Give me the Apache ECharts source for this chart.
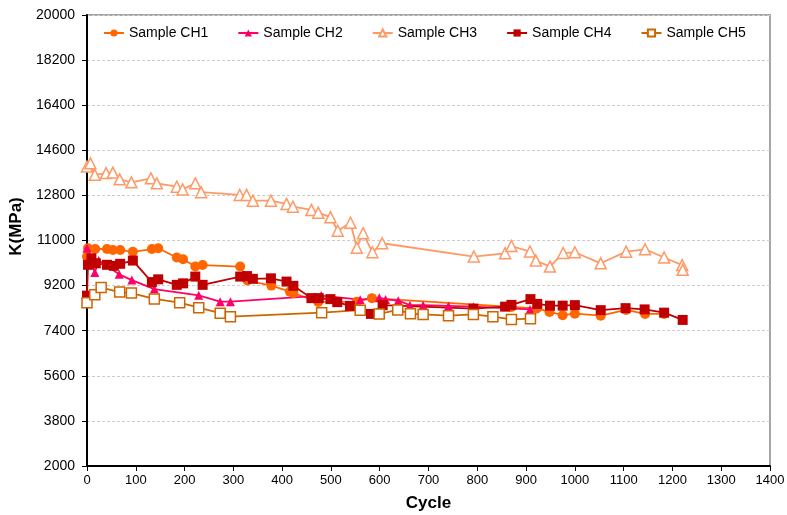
<!DOCTYPE html>
<html><head><meta charset="utf-8">
<script src="https://cdn.jsdelivr.net/npm/echarts@6/dist/echarts.min.js"></script>
<style>html,body{margin:0;padding:0;background:#fff}#c{width:787px;height:515px}</style>
</head><body><div id="c"></div>
<script>
const seriesNames = ['Sample CH1','Sample CH2','Sample CH3','Sample CH4','Sample CH5'];
const xTicks = {min:0, max:1400, interval:100};
const yTicks = {min:2000, max:20000, interval:1800};
const ch1 = [[0,10350],[2,10690],[17,10660],[41,10660],[53,10620],[68,10620],[94,10550],[133,10660],[146,10690],[184,10320],[197,10250],[222,9960],[237,10020],[314,9960],[329,9400],[378,9200],[416,8960],[423,8900],[474,8550],[553,8560],[584,8700],[870,8350],[922,8290],[948,8150],[975,8020],[1000,8080],[1053,8000],[1105,8230],[1144,8070],[1183,8070]];
const ch2 = [[0,10690],[16,9720],[24,10200],[66,9650],[92,9420],[138,9060],[229,8810],[273,8560],[294,8560],[480,8800],[560,8640],[599,8720],[612,8650],[638,8600],[662,8420],[689,8420],[741,8390],[792,8360],[908,8250]];
const ch3 = [[0,13950],[7,14080],[16,13620],[39,13690],[53,13710],[67,13440],[91,13320],[131,13480],[143,13280],[184,13150],[196,13040],[222,13280],[234,12930],[313,12820],[327,12820],[340,12590],[377,12590],[409,12460],[422,12350],[460,12220],[474,12110],[499,11930],[514,11390],[540,11710],[553,10710],[566,11290],[585,10530],[605,10890],[793,10360],[857,10490],[870,10780],[908,10560],[920,10200],[949,9960],[976,10500],[1000,10530],[1053,10090],[1105,10555],[1144,10650],[1183,10320],[1220,10020],[1221,9830]];
const ch4 = [[0,8800],[2,10030],[9,10290],[18,10090],[41,10030],[55,9990],[68,10070],[94,10200],[133,9340],[146,9450],[184,9230],[197,9290],[222,9560],[237,9230],[314,9560],[328,9580],[340,9470],[377,9490],[409,9360],[423,9190],[460,8700],[475,8700],[499,8660],[513,8540],[539,8390],[582,8070],[606,8420],[792,8280],[857,8360],[870,8430],[909,8660],[923,8470],[949,8400],[975,8400],[1000,8420],[1053,8220],[1104,8300],[1143,8250],[1183,8120],[1221,7830]];
const ch5 = [[0,8520],[16,8830],[29,9120],[67,8940],[91,8900],[138,8670],[190,8520],[229,8320],[273,8100],[294,7960],[481,8120],[560,8220],[599,8070],[637,8230],[663,8080],[689,8050],[741,8000],[792,8050],[832,7960],[870,7850],[909,7880]];

const colors = ['#FF6600','#FF0066','#FF9966','#C00000','#CC6600'];
const symbols = ['circle','triangle','triangle','rect','rect'];
const sizes = [10,9,11,10,10];
const hollow = [false,false,true,false,true];
const datasets = [ch1,ch2,ch3,ch4,ch5];

const series = datasets.map((d,i)=>({
  name: seriesNames[i], type:'line', data:d,
  symbol: symbols[i], symbolSize: sizes[i],
  lineStyle:{color:colors[i], width:1.8},
  itemStyle: hollow[i] ? {color:'#fff', borderColor:colors[i], borderWidth:1.5} : {color:colors[i]},
  emphasis:{disabled:true}
}));

const chart = echarts.init(document.getElementById('c'), null, {renderer:'canvas'});
chart.setOption({
  animation:false,
  backgroundColor:'#fff',
  textStyle:{fontFamily:'Liberation Sans, Arial, sans-serif'},
  grid:{left:87, right:17, top:15, bottom:49, show:true, borderColor:'#888', borderWidth:1.5, backgroundColor:'transparent', outerBoundsMode:'none', containLabel:false},
  legend:{
    data: seriesNames, left:98, top:21, itemWidth:20, itemHeight:9, itemGap:29,
    textStyle:{fontSize:14, color:'#000', fontFamily:'Liberation Sans, Arial, sans-serif'}
  },
  xAxis:{
    type:'value', min:xTicks.min, max:xTicks.max, interval:xTicks.interval,
    name:'Cycle', nameLocation:'middle', nameGap:29,
    nameTextStyle:{fontSize:17, fontWeight:'bold', color:'#000'},
    axisLine:{show:true, onZero:false, lineStyle:{color:'#000', width:2}},
    axisTick:{show:true, length:5, lineStyle:{color:'#000'}},
    axisLabel:{fontSize:13, color:'#000', margin:8, formatter:v=>String(v)},
    splitLine:{show:false}
  },
  yAxis:{
    type:'value', min:yTicks.min, max:yTicks.max, interval:yTicks.interval,
    name:'K(MPa)', nameLocation:'middle', nameGap:56, nameRotate:90,
    nameTextStyle:{fontSize:17, fontWeight:'bold', color:'#000', padding:[0,0,0,28]},
    axisLine:{show:true, onZero:false, lineStyle:{color:'#000', width:2}},
    axisTick:{show:true, length:5, lineStyle:{color:'#000'}},
    axisLabel:{fontSize:14, color:'#000', margin:12, formatter:v=>String(v)},
    splitLine:{show:true, lineStyle:{color:'#CCCCCC', type:[3,2], width:1}}
  },
  series: series
});
</script></body></html>
